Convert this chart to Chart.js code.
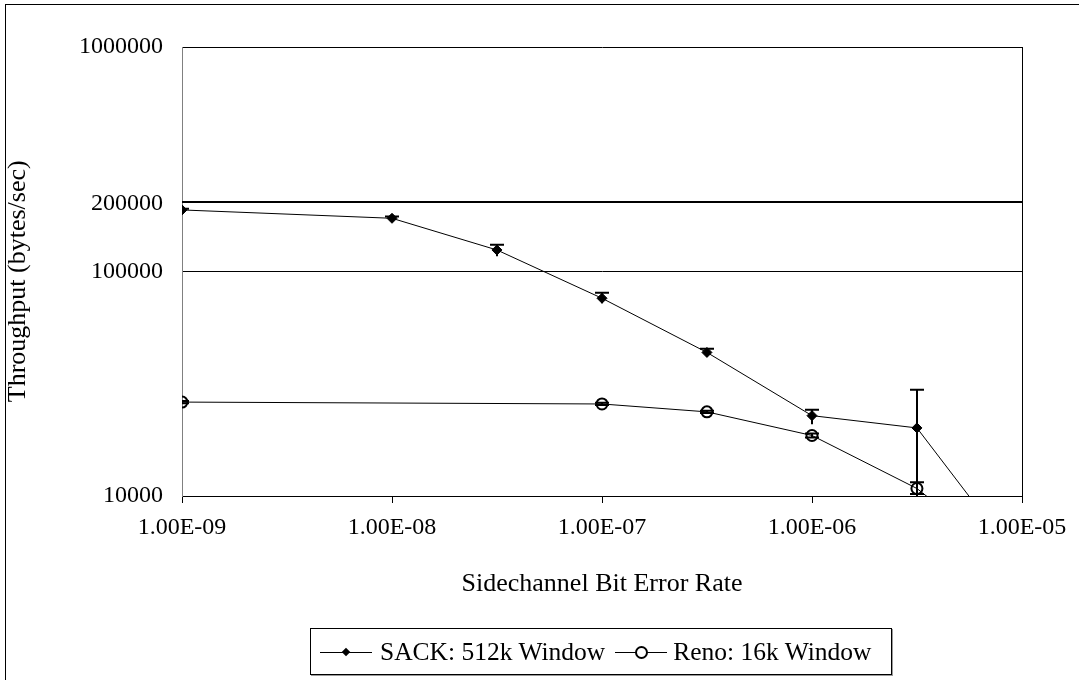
<!DOCTYPE html>
<html>
<head>
<meta charset="utf-8">
<script src="https://cdn.jsdelivr.net/npm/chart.js@4.4.0/dist/chart.umd.min.js"></script>
<style>
  body { margin: 0; background: #fff; }
  #wrap { position: relative; width: 1079px; height: 680px; overflow: hidden; }
  #frame { position: absolute; left: 5px; top: 4px; width: 1200px; height: 800px;
           border-left: 1px solid #000; border-top: 1px solid #000; }
  #chart { position: absolute; left: 0; top: 0; }
  #legend { position: absolute; left: 310px; top: 628px; width: 580px; height: 45px;
            border: 1px solid #000; box-shadow: 1px 1px 0 #999;
            font-family: "Liberation Serif", "Times New Roman", serif; font-size: 25.5px;
            display: flex; align-items: center; background: #fff; }
  .sample { position: relative; width: 52px; height: 20px; margin-left: 9px; margin-right: 8px; }
  .sample::before { content: ""; position: absolute; left: 0; right: 0; top: 10px; border-top: 1px solid #000; }
  .diamond { position: absolute; left: 23px; top: 7px; width: 6px; height: 6px; background: #000; transform: rotate(45deg); }
  .circle { position: absolute; left: 20px; top: 4px; width: 9px; height: 9px; border: 2px solid #000; border-radius: 50%; background: #fff; }
</style>
</head>
<body>
<div id="wrap">
  <div id="frame"></div>
  <canvas id="chart" width="1079" height="680"></canvas>
  <div id="legend">
    <span class="sample"><span class="diamond"></span></span><span>SACK: 512k Window</span>
    <span class="sample" style="margin-left:10px;margin-right:6px"><span class="circle"></span></span><span>Reno: 16k Window</span>
  </div>
</div>
<script>
// SACK, 512k window
const xSack = [1e-9, 1e-8, 3.16e-8, 1e-7, 3.16e-7, 1e-6, 3.16e-6, 1e-5];
const ySack = [188000, 172600, 124700, 76000, 43600, 22800, 20100, 4900];
const sackHi = [190500, 176000, 131500, 80400, 45300, 24200, 29700, null];
const sackLo = [186000, 169000, 117000, 72200, 41800, 20900, 6000, null];

// Reno, 16k window
const xReno = [1e-9, 1e-7, 3.16e-7, 1e-6, 3.16e-6, 1e-5];
const yReno = [26200, 25700, 23700, 18600, 10800, 4600];
const renoHi = [26500, 26000, 24000, 19000, 11500, null];
const renoLo = [25900, 25400, 23400, 18200, 10200, null];

// horizontal limit line
const xLimit = [1e-9, 1e-5];
const yLimit = [204000, 204000];

const xTicks = [1e-9, 1e-8, 1e-7, 1e-6, 1e-5];
const xTickLabels = ["1.00E-09", "1.00E-08", "1.00E-07", "1.00E-06", "1.00E-05"];
const yTicks = [10000, 100000, 200000, 1000000];
const yTickLabels = ["10000", "100000", "200000", "1000000"];

const FONT = "'Liberation Serif', 'Times New Roman', serif";

function pts(xs, ys) {
    return xs.map((x, i) => ({ x: x, y: ys[i] }));
}

// error bars + right frame line
const errorBars = {
    id: "errorBars",
    afterDatasetsDraw(chart) {
        const ctx = chart.ctx;
        const area = chart.chartArea;
        const xs = chart.scales.x, ys = chart.scales.y;
        ctx.save();
        ctx.strokeStyle = "#000";
        ctx.lineWidth = 1;
        ctx.beginPath();
        ctx.moveTo(area.right + 0.5, area.top);
        ctx.lineTo(area.right + 0.5, area.bottom);
        ctx.stroke();

        ctx.beginPath();
        ctx.rect(area.left, area.top, area.right - area.left + 10, area.bottom - area.top + 1);
        ctx.clip();
        ctx.lineWidth = 2;
        chart.data.datasets.forEach(ds => {
            if (!ds.errHi) return;
            ds.data.forEach((p, i) => {
                if (ds.errHi[i] == null) return;
                const px = Math.round(xs.getPixelForValue(p.x));
                const top = ys.getPixelForValue(ds.errHi[i]);
                const bot = ys.getPixelForValue(ds.errLo[i]);
                ctx.beginPath();
                ctx.moveTo(px, top);
                ctx.lineTo(px, bot);
                ctx.moveTo(px - 7, top);
                ctx.lineTo(px + 7, top);
                if (ds.capLow) {
                    ctx.moveTo(px - 7, bot);
                    ctx.lineTo(px + 7, bot);
                }
                ctx.stroke();
            });
        });
        ctx.restore();
    }
};

new Chart(document.getElementById("chart").getContext("2d"), {
    type: "line",
    data: {
        datasets: [
            {
                label: "limit",
                data: pts(xLimit, yLimit),
                borderColor: "#000",
                borderWidth: 2,
                pointRadius: 0
            },
            {
                label: "SACK: 512k Window",
                data: pts(xSack, ySack),
                errHi: sackHi,
                errLo: sackLo,
                capLow: false,
                borderColor: "#000",
                borderWidth: 1,
                pointStyle: "rectRot",
                pointRadius: 5,
                pointBackgroundColor: "#000",
                pointBorderColor: "#000"
            },
            {
                label: "Reno: 16k Window",
                data: pts(xReno, yReno),
                errHi: renoHi,
                errLo: renoLo,
                capLow: true,
                borderColor: "#000",
                borderWidth: 1,
                pointStyle: "circle",
                pointRadius: 5.5,
                pointBorderWidth: 2,
                pointBackgroundColor: "rgba(0,0,0,0)",
                pointBorderColor: "#000"
            }
        ]
    },
    options: {
        responsive: false,
        animation: false,
        devicePixelRatio: 1,
        layout: { padding: { left: 0, right: 57, top: 47, bottom: 80 } },
        plugins: {
            legend: { display: false },
            tooltip: { enabled: false }
        },
        scales: {
            x: {
                type: "logarithmic",
                position: "bottom",
                min: 1e-9,
                max: 1e-5,
                afterBuildTicks: s => { s.ticks = xTicks.map(v => ({ value: v })); },
                afterFit: s => { s.height = 104; },
                ticks: {
                    autoSkip: false,
                    maxRotation: 0,
                    color: "#000",
                    padding: 10,
                    font: { family: FONT, size: 24 },
                    callback: (v, i) => xTickLabels[i]
                },
                grid: { drawOnChartArea: false, drawTicks: true, tickLength: 7, color: "#000" },
                border: { color: "#000", width: 1 },
                title: {
                    display: true,
                    text: "Sidechannel Bit Error Rate",
                    color: "#000",
                    font: { family: FONT, size: 26 },
                    padding: { top: 0, bottom: 0 }
                }
            },
            y: {
                type: "logarithmic",
                min: 10000,
                max: 1000000,
                afterBuildTicks: s => { s.ticks = yTicks.map(v => ({ value: v })); },
                afterFit: s => { s.width = 182; },
                ticks: {
                    color: "#000",
                    padding: 19,
                    font: { family: FONT, size: 24 },
                    callback: (v, i) => yTickLabels[i]
                },
                grid: {
                    drawTicks: false,
                    color: c => (c.tick && c.tick.value === 200000) ? "rgba(0,0,0,0)" : "#000"
                },
                border: { color: "#808080", width: 1 },
                title: {
                    display: true,
                    text: "Throughput (bytes/sec)   ",
                    color: "#000",
                    font: { family: FONT, size: 26 },
                    padding: { top: 3, bottom: 0 }
                }
            }
        }
    },
    plugins: [errorBars]
});
</script>
</body>
</html>
